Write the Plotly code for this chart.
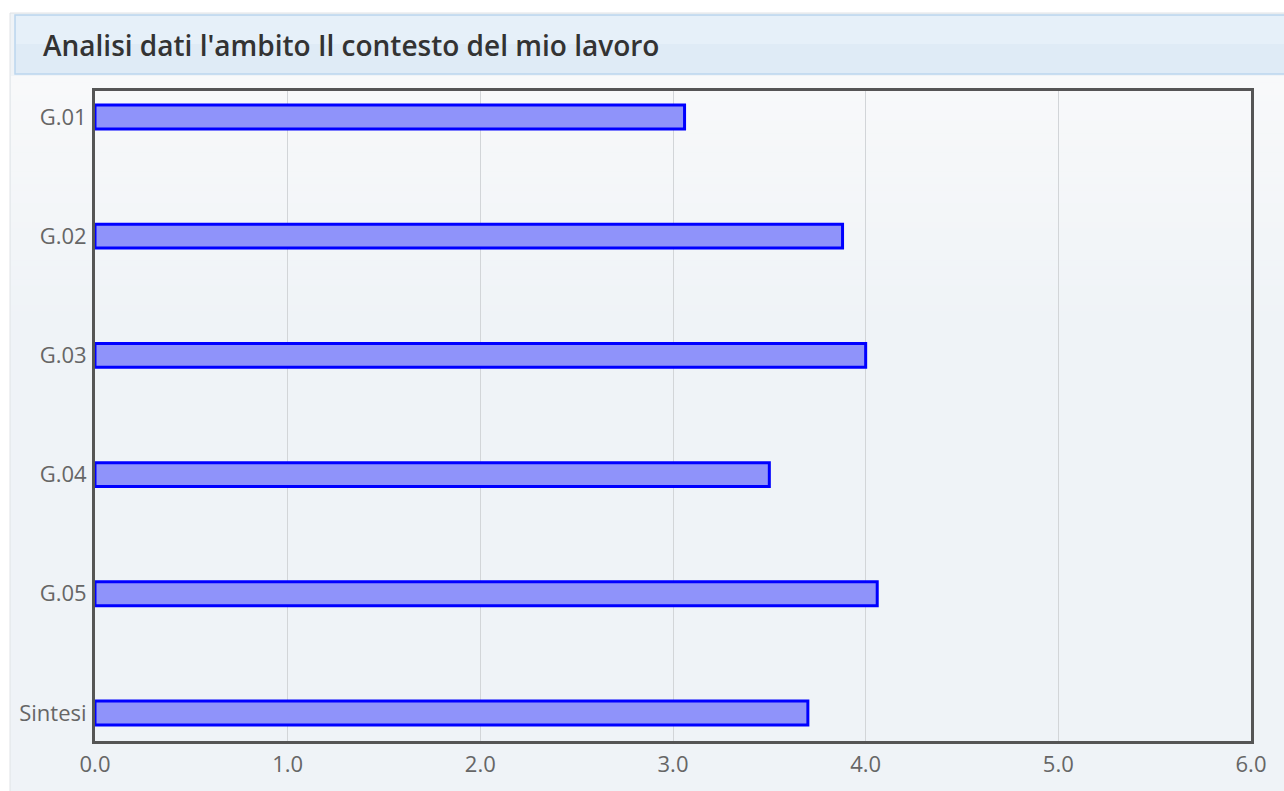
import plotly.graph_objects as go

# Scores per item of the "Il contesto del mio lavoro" section
categories = ["G.01", "G.02", "G.03", "G.04", "G.05", "Sintesi"]
scores = [3.06, 3.88, 4.00, 3.50, 4.06, 3.70]
x_ticks = [0, 1, 2, 3, 4, 5, 6]
x_tick_labels = ["0.0", "1.0", "2.0", "3.0", "4.0", "5.0", "6.0"]
title_text = "Analisi dati l'ambito Il contesto del mio lavoro"

W, H = 1284, 791
L, R, T, B = 95, 33, 91, 50
pw, ph = W - L - R, H - T - B


def px_x(px):
    return (px - L) / pw


def px_y(py):
    return 1 - (py - T) / ph


fig = go.Figure(
    go.Bar(
        x=scores,
        y=categories,
        orientation="h",
        width=0.2,
        marker=dict(color="#8f93fa", line=dict(color="#0000ff", width=3)),
        hoverinfo="x+y",
    )
)

# panel background with a thin left border
shapes = [dict(type="rect", xref="paper", yref="paper",
               x0=px_x(10), x1=px_x(W + 10), y0=px_y(H + 10), y1=px_y(13),
               fillcolor="#eff3f7", line=dict(color="#e0e3e6", width=1),
               layer="below")]

# soft vertical gradient behind the plot area (lighter at top)
top_c, bot_c = (248, 249, 250), (239, 243, 247)
n_bands = 40
y_start, y_end = 76, 330
step = (y_end - y_start) / n_bands
for i in range(n_bands):
    t = i / (n_bands - 1)
    c = tuple(round(a + (b - a) * t) for a, b in zip(top_c, bot_c))
    shapes.append(dict(type="rect", xref="paper", yref="paper",
                       x0=px_x(11), x1=px_x(W + 10),
                       y0=px_y(y_start + (i + 1) * step + 0.5),
                       y1=px_y(y_start + i * step),
                       fillcolor=f"rgb{c}", line=dict(width=0), layer="below"))

# header bar
shapes.append(dict(type="rect", xref="paper", yref="paper",
                   x0=px_x(15), x1=px_x(W + 10), y0=px_y(74), y1=px_y(15),
                   fillcolor="#dfebf6", line=dict(color="#bcd6ee", width=1.5),
                   layer="below"))
shapes.append(dict(type="rect", xref="paper", yref="paper",
                   x0=px_x(16), x1=px_x(W + 10), y0=px_y(44), y1=px_y(16),
                   fillcolor="#e6f0f9", line=dict(width=0), layer="below"))

fig.update_layout(
    width=W, height=H,
    margin=dict(l=L, r=R, t=T, b=B, pad=0),
    paper_bgcolor="white",
    plot_bgcolor="rgba(0,0,0,0)",
    shapes=shapes,
    showlegend=False,
    font=dict(family="Open Sans", color="#666666", size=22),
    annotations=[dict(
        text=title_text, xref="paper", yref="paper",
        x=px_x(41), y=px_y(45), xanchor="left", yanchor="middle",
        showarrow=False,
        font=dict(family="Open Sans", size=28, color="#333333", weight=600),
    )],
)

fig.update_xaxes(
    range=[0, 6], tickvals=x_ticks, ticktext=x_tick_labels,
    showgrid=True, gridcolor="#d2d5d8", gridwidth=1,
    showline=True, mirror=True, linecolor="#555555", linewidth=3,
    ticks="outside", ticklen=2, tickcolor="rgba(0,0,0,0)",
    zeroline=False, tickfont=dict(size=22, color="#666666"),
)
fig.update_yaxes(
    range=[5.235, -0.218], showgrid=False,
    showline=True, mirror=True, linecolor="#555555", linewidth=3,
    ticks="outside", ticklen=1, tickcolor="rgba(0,0,0,0)",
    tickfont=dict(size=22, color="#666666"),
)

fig.write_html("out.html")
